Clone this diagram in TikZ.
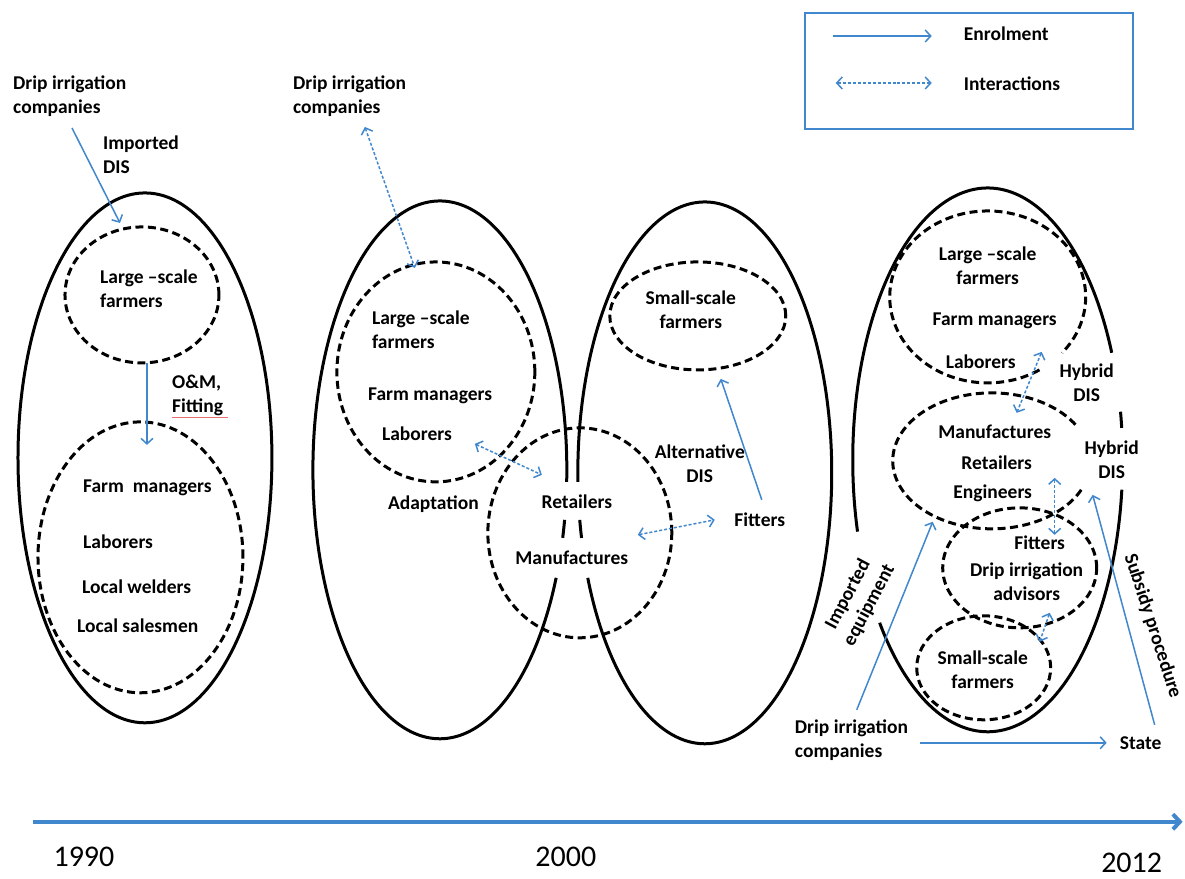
\documentclass[tikz,border=0pt]{standalone}
\usepackage{fontspec}
\setmainfont{Carlito}
\usetikzlibrary{arrows.meta,shapes.geometric}
\definecolor{lnblue}{RGB}{65,135,205}
\definecolor{squig}{RGB}{235,110,110}
\begin{document}
\begin{tikzpicture}[x=1pt,y=-1pt,
  >={Straight Barb[length=5.5pt,width=12pt]},
  lbl/.style={font=\fontsize{19.5}{24}\selectfont\bfseries, inner sep=1pt, align=left},
  lblc/.style={lbl, align=center},
  yearlbl/.style={font=\fontsize{30}{36}\selectfont, inner sep=0pt},
  solidell/.style={draw=black, line width=3pt},
  dashell/.style={draw=black, line width=3pt, dash pattern=on 8pt off 4.5pt},
  ellnode/.style={ellipse, inner sep=0pt, outer sep=0pt},
  enrol/.style={draw=lnblue, line width=1.5pt, ->},
  inter/.style={draw=lnblue, line width=1.5pt, dash pattern=on 3pt off 2pt, <->},
  axisline/.style={draw=lnblue, line width=4pt, -{Straight Barb[length=7pt,width=15pt]}},
]
\fill[white] (0,0) rectangle (1185,879);

% ---------- legend ----------
\node[draw=lnblue, line width=2pt, minimum width=328pt, minimum height=116pt, anchor=north west, inner sep=0pt] (legend) at (804,12) {};
\coordinate (leg1a) at (833,36); \coordinate (leg1b) at (932,36);
\coordinate (leg2a) at (836,83); \coordinate (leg2b) at (932,83);
\draw[enrol] (leg1a) -- (leg1b);
\draw[inter] (leg2a) -- (leg2b);
\node[lbl, anchor=west] (legE) at (963,34) {Enrolment};
\node[lbl, anchor=west] (legI) at (963,84) {Interactions};

% ---------- time axis ----------
\coordinate (axs) at (33,822); \coordinate (axe) at (1183,822);
\draw[axisline] (axs) -- (axe);
\node[yearlbl] (y1990) at (84,857) {1990};
\node[yearlbl] (y2000) at (566,857) {2000};
\node[yearlbl] (y2012) at (1132,863) {2012};

% ---------- 1990 group ----------
\node[solidell, ellnode, minimum width=254pt, minimum height=530pt] (bigA) at (145,458) {};
\node[dashell, ellnode, minimum width=154pt, minimum height=136pt] (lsfA) at (142,295) {};
\node[dashell, ellnode, minimum width=205pt, minimum height=271pt] (lowA) at (140.5,557.5) {};
\node[lbl, anchor=west] (dicA) at (12,96) {Drip irrigation\\companies};
\node[lbl, anchor=west] (impA) at (102,155) {Imported\\DIS};
\node[lbl, anchor=west] (lsfAt) at (99,289) {Large –scale\\farmers};
\node[lbl, anchor=west] (omA) at (171,396) {O\&M,\\Fitting};
\coordinate (sq1) at (172,418); \coordinate (sq2) at (228,418);
\draw[squig, line width=1.2pt] (sq1) -- (sq2);
\node[lbl, anchor=west] (fmA) at (82,488) {Farm\ \ managers};
\node[lbl, anchor=west] (labA) at (82,542) {Laborers};
\node[lbl, anchor=west] (lwA) at (81,587) {Local welders};
\node[lbl, anchor=west] (lsA) at (76,626) {Local salesmen};
\coordinate (a1s) at (72,128); \coordinate (a1e) at (120,223);
\draw[enrol] (a1s) -- (a1e);
\coordinate (a2s) at (147,363); \coordinate (a2e) at (147,445);
\draw[enrol] (a2s) -- (a2e);

% ---------- 2000 group ----------
\draw[solidell] plot[domain=23.67:362.56, samples=160, smooth] ({440+127*cos(\x)},{470+269*sin(\x)});
\draw[solidell] plot[domain=10.71:14.64, samples=5, smooth] ({440+127*cos(\x)},{470+269*sin(\x)});
\draw[solidell] plot[domain=178.1:517.2, samples=160, smooth] ({705+127*cos(\x)},{473+271*sin(\x)});
\draw[solidell] plot[domain=166.1:170.0, samples=5, smooth] ({705+127*cos(\x)},{473+271*sin(\x)});
\node[dashell, ellnode, minimum width=198pt, minimum height=220pt] (lsfB) at (436,372) {};
\node[dashell, ellnode, minimum width=184pt, minimum height=210pt] (retB) at (580,533) {};
\node[dashell, ellnode, minimum width=176pt, minimum height=108pt] (ssfB) at (698,316) {};
\node[lbl, anchor=west] (dicB) at (292,96) {Drip irrigation\\companies};
\node[lbl, anchor=west] (lsfBt) at (371,330) {Large –scale\\farmers};
\node[lbl, anchor=west] (fmB) at (367,396) {Farm managers};
\node[lbl, anchor=west] (labB) at (381,434) {Laborers};
\node[lbl, anchor=west] (adB) at (387,504) {Adaptation};
\node[lbl] (retBt) at (577,502) {Retailers};
\node[lbl] (manB) at (572,558) {Manufactures};
\node[lblc] (ssfBt) at (691,310) {Small-scale\\farmers};
\node[lblc] (altB) at (700,464) {Alternative\\DIS};
\node[lbl] (fitB) at (760,520) {Fitters};
\coordinate (b1s) at (365,127); \coordinate (b1e) at (415,268);
\draw[inter] (b1s) -- (b1e);
\coordinate (b2s) at (475,444); \coordinate (b2e) at (542,475);
\draw[inter] (b2s) -- (b2e);
\coordinate (b3s) at (638,535); \coordinate (b3e) at (715,520);
\draw[inter] (b3s) -- (b3e);
\coordinate (b4s) at (762,500); \coordinate (b4e) at (721,379);
\draw[enrol] (b4s) -- (b4e);

% ---------- 2012 group ----------
\draw[solidell] plot[domain=6.3:143.2, samples=120, smooth] ({988+135*cos(\x)},{460+272*sin(\x)});
\draw[solidell] plot[domain=164.7:336.8, samples=140, smooth] ({988+135*cos(\x)},{460+272*sin(\x)});
\draw[solidell] plot[domain=349.8:353.25, samples=5, smooth] ({988+135*cos(\x)},{460+272*sin(\x)});
\draw[dashell] plot[domain=58.1:400.6, samples=140, smooth] ({988+98*cos(\x)},{297+86*sin(\x)});
\draw[dashell] plot[domain=25.2:331, samples=120, smooth] ({992+99*cos(\x)},{461+68*sin(\x)});
\node[dashell, ellnode, minimum width=154pt, minimum height=120pt] (fitC) at (1020,568) {};
\node[dashell, ellnode, minimum width=134pt, minimum height=104pt] (ssfC) at (984,668) {};
\node[lblc] (lsfCt) at (988,266) {Large –scale\\farmers};
\node[lbl] (fmC) at (995,321) {Farm managers};
\node[lbl] (labC) at (981,362) {Laborers};
\node[lblc] (hyb1) at (1087,383) {Hybrid\\DIS};
\node[lbl] (manC) at (995,432) {Manufactures};
\node[lbl] (retC) at (997,463) {Retailers};
\node[lbl] (engC) at (993,493) {Engineers};
\node[lblc] (hyb2) at (1112,460) {Hybrid\\DIS};
\node[lbl] (fitCt) at (1040,543) {Fitters};
\node[lblc] (advC) at (1027,582) {Drip irrigation\\advisors};
\node[lblc] (ssfCt) at (983,670) {Small-scale\\farmers};
\node[lblc, rotate=62] (impC) at (859,600) {Imported\\equipment};
\node[lbl, anchor=west] (dicC) at (794,740) {Drip irrigation\\companies};
\node[lbl] (state) at (1141,743) {State};
\node[lbl, rotate=-72] (subC) at (1153,626) {Subsidy procedure};
\coordinate (c1s) at (1042,352); \coordinate (c1e) at (1017,413);
\draw[inter] (c1s) -- (c1e);
\coordinate (c2s) at (1055,478); \coordinate (c2e) at (1055,535);
\draw[inter] (c2s) -- (c2e);
\coordinate (c3s) at (1050,613); \coordinate (c3e) at (1040,642);
\draw[inter] (c3s) -- (c3e);
\coordinate (c4s) at (857,710); \coordinate (c4e) at (933,522);
\draw[enrol] (c4s) -- (c4e);
\coordinate (c5s) at (920,743); \coordinate (c5e) at (1107,743);
\draw[enrol] (c5s) -- (c5e);
\coordinate (c6s) at (1155,725); \coordinate (c6e) at (1093,495);
\draw[enrol] (c6s) -- (c6e);
\end{tikzpicture}
\end{document}
